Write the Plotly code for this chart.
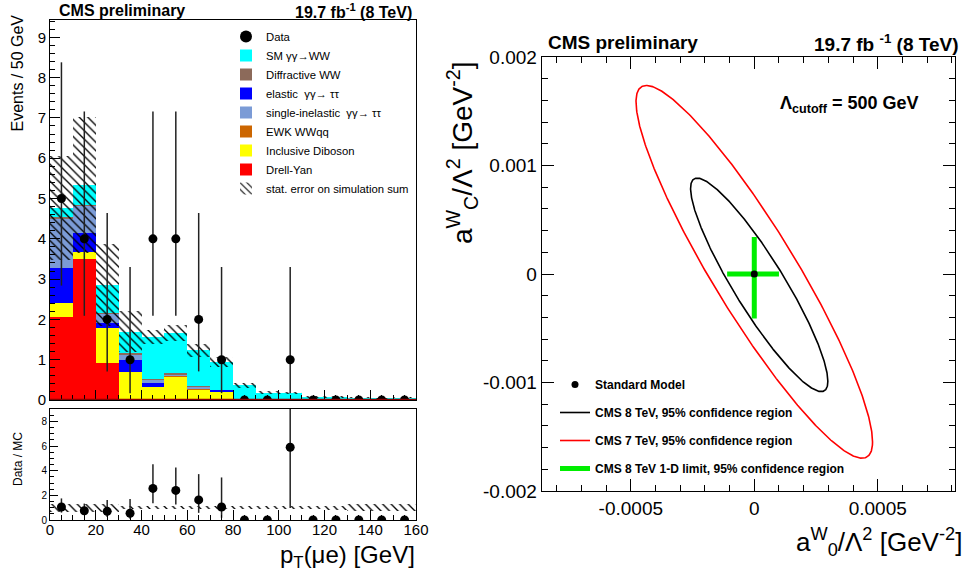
import numpy as np
import plotly.graph_objects as go

FONT = "Liberation Sans, Arial, sans-serif"

# ---------------- left panel data ----------------
bin_centers = [5, 15, 25, 35, 45, 55, 65, 75, 85, 95, 105, 115, 125, 135, 145, 155]
bin_width = 10
x_range = [0, 160]

drell_yan = [2.07, 3.50, 0.93, 0, 0, 0, 0, 0, 0, 0, 0, 0, 0, 0, 0, 0]
diboson = [0.33, 0.18, 0.86, 0.70, 0.33, 0.58, 0.27, 0.21, 0.01, 0, 0.01, 0, 0, 0, 0, 0]
ewk_wwqq = [0, 0, 0, 0, 0, 0.02, 0.02, 0, 0, 0, 0, 0, 0, 0, 0, 0]
elastic_tt = [0.87, 0.47, 0.11, 0.29, 0.08, 0, 0, 0.04, 0, 0, 0, 0, 0, 0, 0, 0]
sinel_tt = [1.23, 0.67, 0.25, 0.13, 0.10, 0.03, 0.04, 0, 0, 0, 0, 0, 0, 0, 0, 0]
diffr_ww = [0.04, 0.03, 0.02, 0.05, 0.02, 0.03, 0.01, 0.01, 0, 0, 0, 0, 0, 0, 0, 0]
sm_ww = [0.22, 0.49, 0.68, 0.53, 1.03, 1.01, 0.89, 0.69, 0.35, 0.18, 0.16, 0.08, 0.07, 0.06, 0.03, 0.06]
stat_err = [1.29, 1.69, 1.02, 0.51, 0.17, 0.20, 0.16, 0.12, 0.05, 0.04, 0.03, 0.02, 0.02, 0.02, 0.02, 0.02]

data_counts = [5, 4, 2, 1, 4, 4, 2, 1, 0, 0, 1, 0, 0, 0, 0, 0]
data_up = [8.38, 7.16, 4.64, 3.30, 7.16, 7.16, 4.64, 3.30, 0, 0, 3.30, 0, 0, 0, 0, 0]
data_dn = [2.84, 2.09, 0.71, 0.17, 2.09, 2.09, 0.71, 0.17, 0, 0, 0.17, 0, 0, 0, 0, 0]

ratio = [1.05, 0.75, 0.70, 0.55, 2.56, 2.40, 1.63, 1.05, 0, 0, 5.9, 0, 0, 0, 0, 0]
ratio_up = [1.75, 1.33, 1.62, 1.70, 4.52, 4.26, 3.72, 3.45, 0, 0, 19.0, 0, 0, 0, 0, 0]
ratio_dn = [0.60, 0.40, 0.25, 0.10, 1.35, 1.25, 0.58, 0.18, 0, 0, 0.97, 0, 0, 0, 0, 0]
ratio_band = [0.33, 0.33, 0.33, 0.13, 0.13, 0.13, 0.13, 0.13, 0.13, 0.13, 0.13, 0.13, 0.15, 0.3, 0.3, 0.3]

# ---------------- right panel data ----------------
ell8_center = (0.00002, -0.0001)
ell8_half = (0.000278, 0.000984)
ell8_rho = -0.903
ell7_center = (0.0, 0.00002)
ell7_half = (0.000479, 0.001718)
ell7_rho = -0.912
a0_limits = [-0.00011, 0.00010]
aC_limits = [-0.00041, 0.00034]
sm_point = (0.0, 0.0)

fig = go.Figure()

stack = [
    ("Drell-Yan", drell_yan, "#ff0000", 8),
    ("Inclusive Diboson", diboson, "#ffff00", 7),
    ("EWK WWqq", ewk_wwqq, "#cc6600", 6),
    ("elastic  γγ→ ττ", elastic_tt, "#0000ff", 4),
    ("single-inelastic  γγ→ ττ", sinel_tt, "#7b9bd6", 5),
    ("Diffractive WW", diffr_ww, "#8c6a5a", 3),
    ("SM γγ→WW", sm_ww, "#00ffff", 2),
]
for name, vals, col, rank in stack:
    fig.add_trace(go.Bar(x=bin_centers, y=vals, width=bin_width, name=name,
                         marker=dict(color=col, line=dict(width=0)),
                         legend="legend", legendrank=rank, xaxis="x", yaxis="y"))

hatch = dict(shape="\\", fgcolor="black", bgcolor="rgba(0,0,0,0)", size=6, solidity=0.22)

total = np.sum([np.array(s[1]) for s in stack], axis=0)
err = np.array(stat_err)
fig.add_trace(go.Bar(x=bin_centers, y=2 * err, base=total - err, width=bin_width,
                     name="stat. error on simulation sum",
                     marker=dict(color="rgba(0,0,0,0)", line=dict(width=0), pattern=hatch),
                     legend="legend", legendrank=9, xaxis="x", yaxis="y"))

dc = np.array(data_counts, float)
fig.add_trace(go.Scatter(x=bin_centers, y=data_counts, mode="markers", name="Data",
                         marker=dict(color="black", size=9),
                         error_y=dict(type="data", symmetric=False,
                                      array=np.clip(np.array(data_up) - dc, 0, None),
                                      arrayminus=np.clip(dc - np.array(data_dn), 0, None) * (dc > 0),
                                      color="#222222", thickness=1.5, width=0),
                         legend="legend", legendrank=1, xaxis="x", yaxis="y"))

# ratio panel
rb = np.array(ratio_band)
fig.add_trace(go.Bar(x=bin_centers, y=2 * rb, base=1 - rb, width=bin_width, showlegend=False,
                     marker=dict(color="rgba(0,0,0,0)", line=dict(width=0), pattern=hatch),
                     xaxis="x2", yaxis="y2"))
r = np.array(ratio)
fig.add_trace(go.Scatter(x=bin_centers, y=ratio, mode="markers", showlegend=False,
                         marker=dict(color="black", size=9),
                         error_y=dict(type="data", symmetric=False,
                                      array=np.clip(np.array(ratio_up) - r, 0, None),
                                      arrayminus=np.clip(r - np.array(ratio_dn), 0, None) * (r > 0),
                                      color="#222222", thickness=1.5, width=0),
                         xaxis="x2", yaxis="y2"))


def ellipse(center, half, rho, n=500):
    t = np.linspace(0, 2 * np.pi, n)
    x = center[0] + half[0] * np.cos(t)
    y = center[1] + half[1] * (rho * np.cos(t) + np.sqrt(1 - rho ** 2) * np.sin(t))
    return x, y


fig.add_trace(go.Scatter(x=[sm_point[0]], y=[sm_point[1]], mode="markers", name="Standard Model",
                         marker=dict(color="black", size=7), legend="legend2", legendgroup="a",
                         xaxis="x3", yaxis="y3"))
ex, ey = ellipse(ell8_center, ell8_half, ell8_rho)
fig.add_trace(go.Scatter(x=ex, y=ey, mode="lines", name="CMS 8 TeV, 95% confidence region",
                         line=dict(color="black", width=1.6), legend="legend2", legendgroup="b",
                         xaxis="x3", yaxis="y3"))
ex, ey = ellipse(ell7_center, ell7_half, ell7_rho)
fig.add_trace(go.Scatter(x=ex, y=ey, mode="lines", name="CMS 7 TeV, 95% confidence region",
                         line=dict(color="red", width=1.6), legend="legend2", legendgroup="c",
                         xaxis="x3", yaxis="y3"))
fig.add_trace(go.Scatter(x=[a0_limits[0], a0_limits[1], None, sm_point[0], sm_point[0]],
                         y=[sm_point[1], sm_point[1], None, aC_limits[0], aC_limits[1]],
                         mode="lines", name="CMS 8 TeV 1-D limit, 95% confidence region",
                         line=dict(color="#00ee00", width=5), legend="legend2", legendgroup="d",
                         xaxis="x3", yaxis="y3"))
# keep SM dot on top
fig.add_trace(go.Scatter(x=[sm_point[0]], y=[sm_point[1]], mode="markers", showlegend=False,
                         marker=dict(color="black", size=7), xaxis="x3", yaxis="y3"))

W, H = 973, 574
def px(v): return v / W
def py(v): return 1 - v / H

base_axis = dict(showline=True, linecolor="black", linewidth=1, ticks="inside",
                 tickcolor="black", showgrid=False, zeroline=False, automargin=False)

def mk(size, **kw):
    d = dict(base_axis)
    d["tickfont"] = dict(family=FONT, color="black", size=size)
    d.update(kw)
    return d

fig.update_layout(
    template="none",
    width=W, height=H, margin=dict(l=0, r=0, t=0, b=0, pad=0),
    paper_bgcolor="white", plot_bgcolor="white",
    barmode="stack", bargap=0,
    font=dict(family=FONT, color="black"),
    xaxis=mk(15, domain=[px(50), px(416)], range=x_range, anchor="y", mirror=True,
             showticklabels=False, tickvals=list(range(0, 161, 20)), ticklen=10,
             minor=dict(dtick=5, ticklen=5, ticks="inside", tickcolor="black", showgrid=False)),
    yaxis=mk(15, domain=[py(400), py(20)], range=[0, 9.43], anchor="x", mirror=True,
             tickvals=list(range(0, 10)), ticklen=10,
             minor=dict(dtick=0.2, ticklen=5, ticks="inside", tickcolor="black", showgrid=False)),
    xaxis2=mk(15, domain=[px(50), px(416)], range=x_range, anchor="y2", mirror=True,
              tickvals=list(range(0, 161, 20)), ticklen=10, ticklabelstandoff=-4,
              minor=dict(dtick=5, ticklen=5, ticks="inside", tickcolor="black", showgrid=False)),
    yaxis2=mk(10, domain=[py(520), py(409)], range=[0, 9], anchor="x2", mirror=True,
              tickvals=[0, 2, 4, 6, 8], ticklen=8,
              minor=dict(dtick=0.5, ticklen=4, ticks="inside", tickcolor="black", showgrid=False)),
    xaxis3=mk(19, domain=[px(541.7), px(955)], range=[-0.000861, 0.000813], anchor="y3",
              mirror="ticks", tickvals=[-0.0005, 0, 0.0005], ticktext=["-0.0005", "0", "0.0005"],
              ticklen=12,
              minor=dict(dtick=0.0001, ticklen=6, ticks="inside", tickcolor="black", showgrid=False)),
    yaxis3=mk(19, domain=[py(491), py(57)], range=[-0.002, 0.002], anchor="x3",
              mirror="ticks", tickvals=[-0.002, -0.001, 0, 0.001, 0.002],
              ticktext=["-0.002", "-0.001", "0", "0.001", "0.002"], ticklen=12,
              minor=dict(dtick=0.0002, ticklen=6, ticks="inside", tickcolor="black", showgrid=False)),
    legend=dict(x=px(226), y=py(22), xanchor="left", yanchor="top",
                bgcolor="rgba(0,0,0,0)", font=dict(family=FONT, size=11.3),
                traceorder="normal", itemsizing="constant"),
    legend2=dict(x=px(555), y=py(370), xanchor="left", yanchor="top",
                 bgcolor="rgba(0,0,0,0)", font=dict(family=FONT, size=12, weight="bold"),
                 traceorder="grouped", tracegroupgap=9),
    showlegend=True,
)

fig.add_shape(type="line", xref="x", yref="y", x0=x_range[0], x1=x_range[1], y0=0, y1=0,
              line=dict(color="#8b0000", width=2.5))

ann = [
    dict(text="<b>CMS preliminary</b>", x=px(57), y=py(11), xanchor="left", size=16),
    dict(text="<b>19.7 fb<sup>-1</sup> (8 TeV)</b>", x=px(414), y=py(11), xanchor="right", size=16),
    dict(text="<b>CMS preliminary</b>", x=px(546), y=py(43), xanchor="left", size=19),
    dict(text="<b>19.7 fb <sup>-1</sup> (8 TeV)</b>", x=px(961), y=py(43), xanchor="right", size=19),
    dict(text="<b>Λ<sub>cutoff</sub> = 500 GeV</b>", x=px(778), y=py(105), xanchor="left", size=18),
    dict(text="p<sub>T</sub>(μe) [GeV]", x=px(417), y=py(556), xanchor="right", size=24),
    dict(text="a<sup>W</sup><sub>0</sub>/Λ<sup>2</sup> [GeV<sup>-2</sup>]", x=px(964), y=py(542),
         xanchor="right", size=26),
]
for a in ann:
    fig.add_annotation(text=a["text"], x=a["x"], y=a["y"], xref="paper", yref="paper",
                       xanchor=a["xanchor"], yanchor="middle", showarrow=False,
                       font=dict(family=FONT, size=a["size"], color="black"))

rot = [
    dict(text="Events / 50 GeV", x=px(17), y=py(13), yanchor="top", size=16),
    dict(text="Data / MC", x=px(18), y=py(459), yanchor="middle", size=12),
    dict(text="a<sup>W</sup><sub>C</sub>/Λ<sup>2</sup> [GeV<sup>-2</sup>]", x=px(462), y=py(60),
         yanchor="top", size=28),
]
for a in rot:
    fig.add_annotation(text=a["text"], x=a["x"], y=a["y"], xref="paper", yref="paper",
                       xanchor="center", yanchor=a["yanchor"], textangle=-90, showarrow=False,
                       font=dict(family=FONT, size=a["size"], color="black"))

fig.write_html("out.html", include_plotlyjs=True, config={"displayModeBar": False},
               post_script="document.body.style.margin='0px';document.body.style.padding='0px';")
